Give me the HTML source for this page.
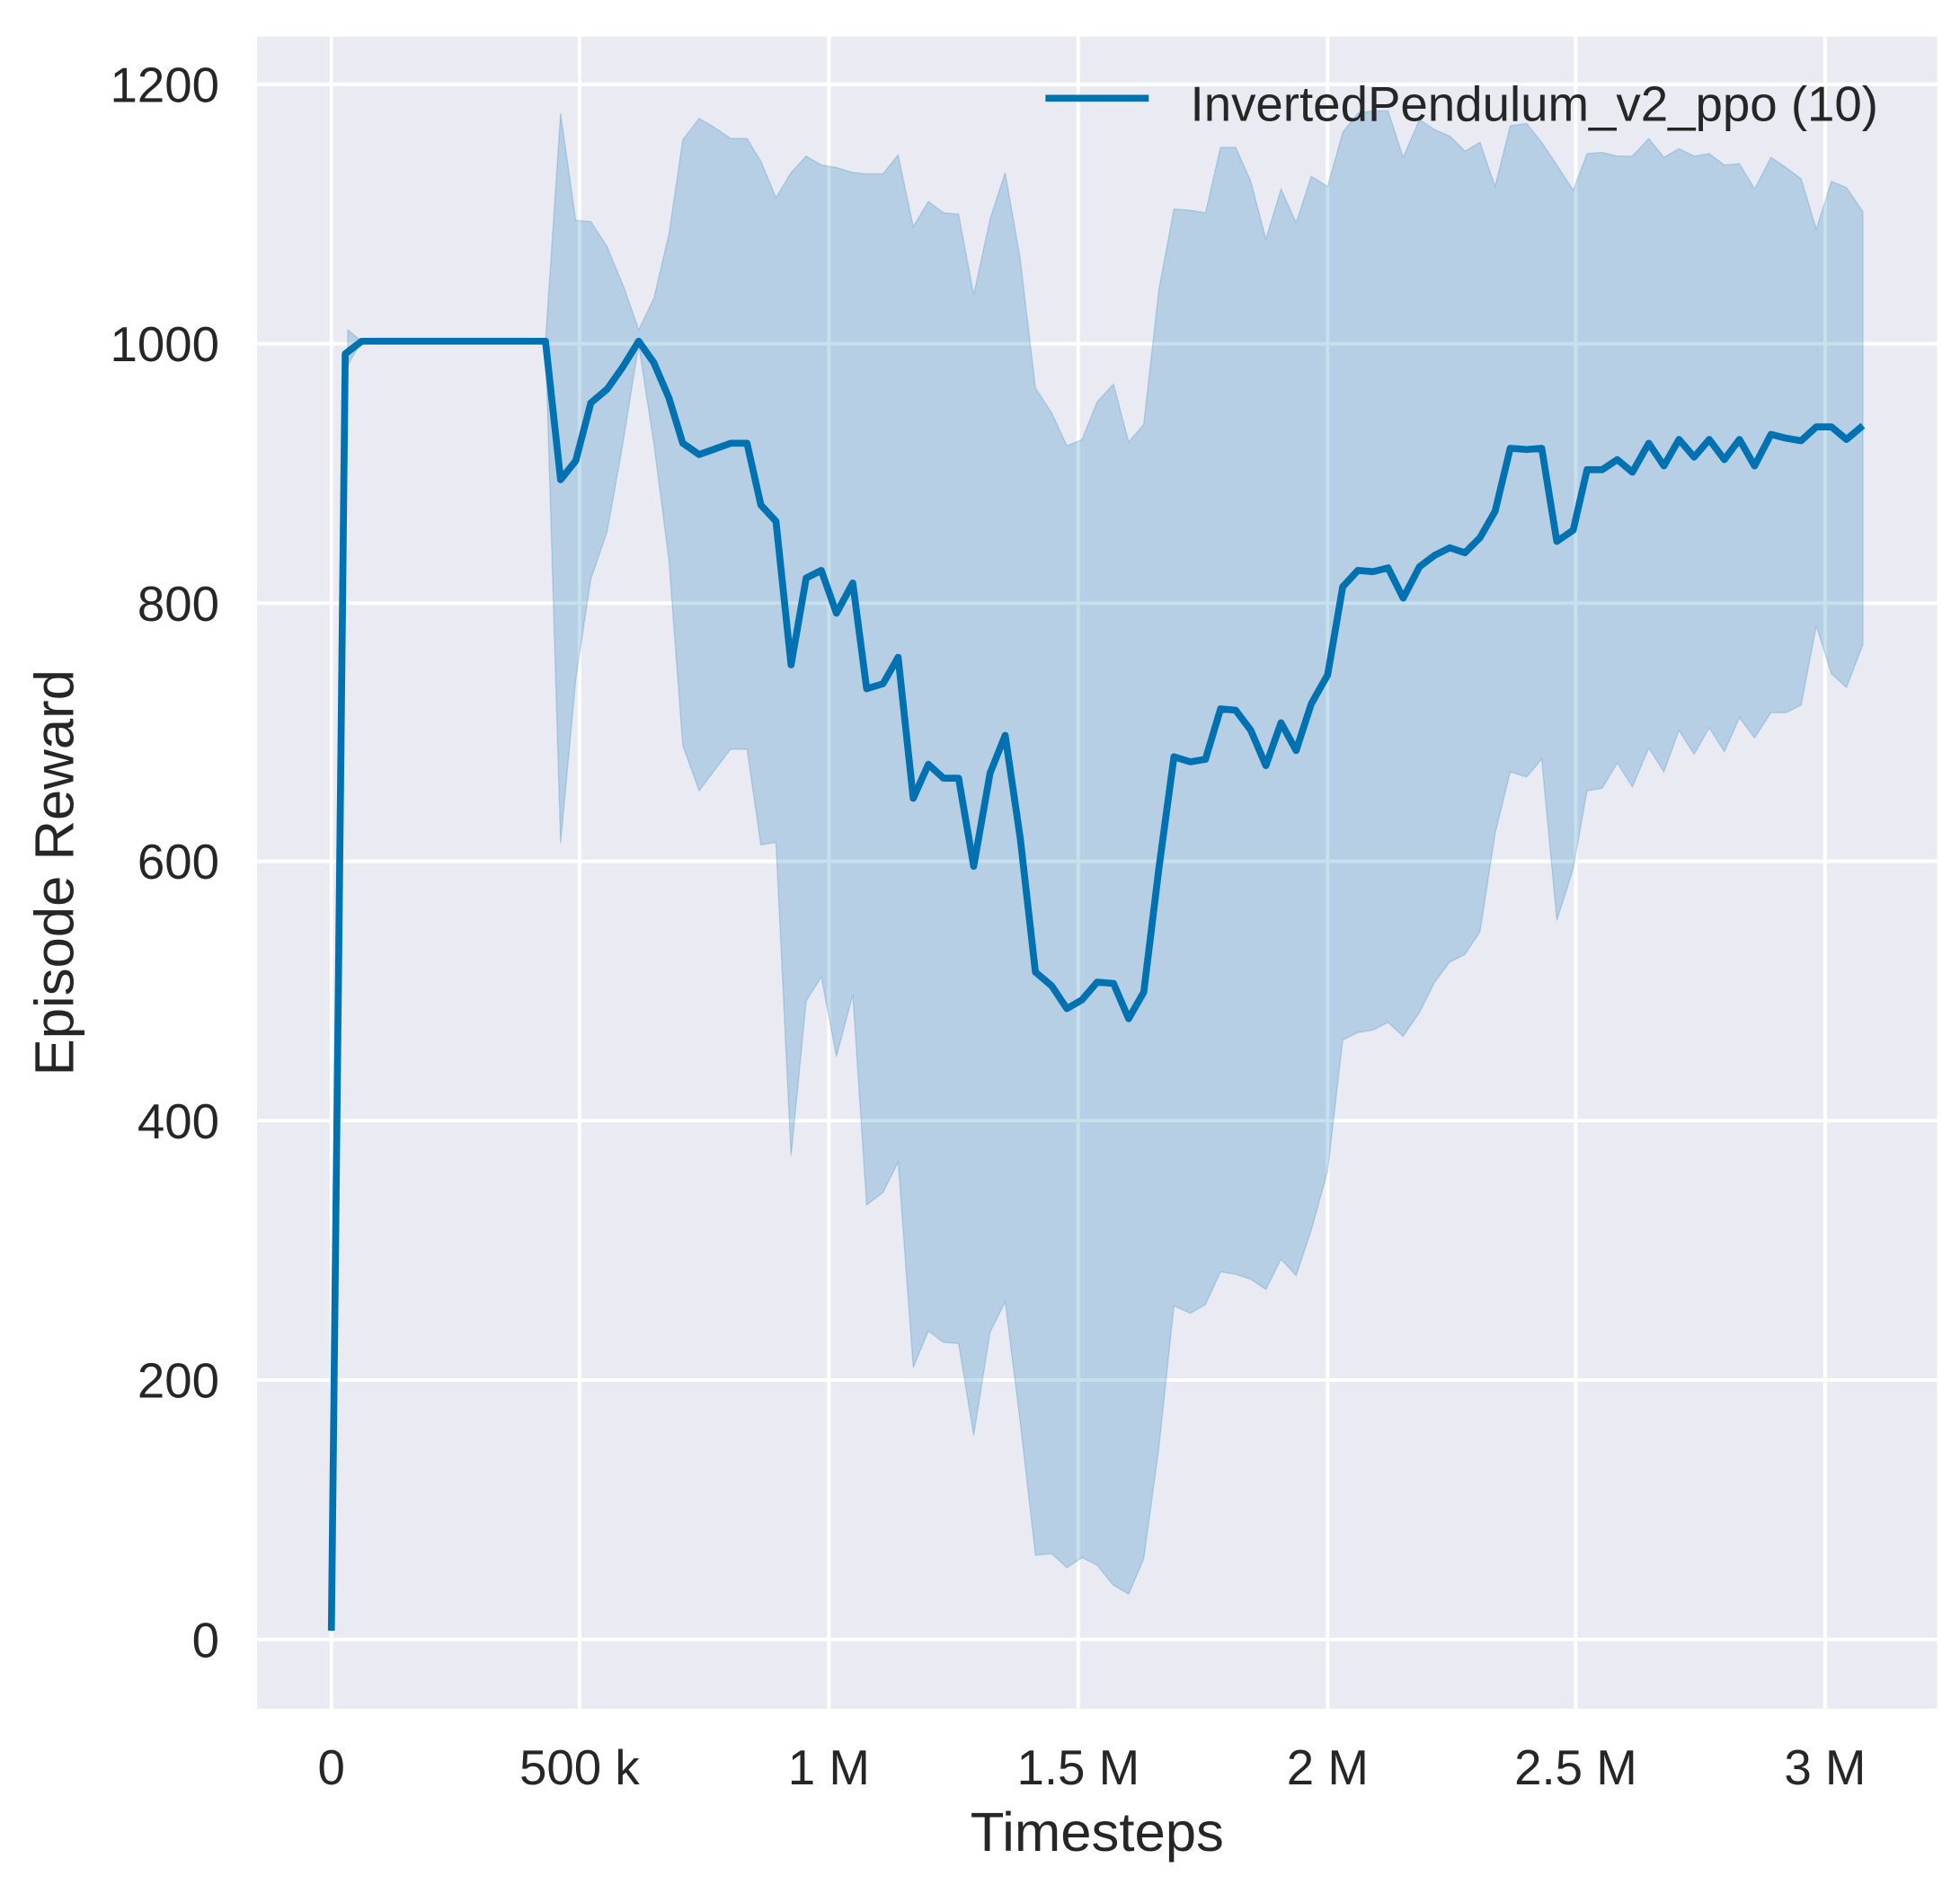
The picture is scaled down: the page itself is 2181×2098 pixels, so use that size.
<!DOCTYPE html>
<html><head><style>
html,body{margin:0;padding:0;background:#fff;}
svg{display:block;}
text{font-family:"Liberation Sans",sans-serif;fill:#262626;}
</style></head><body>
<svg width="2181" height="2098" viewBox="0 0 1556 1497" xmlns="http://www.w3.org/2000/svg">
<rect x="0" y="0" width="1556" height="1497" fill="#fff"/>
<rect x="204" y="29" width="1334" height="1328" fill="#eaeaf2"/>
<g stroke="#fff" stroke-width="2.8">
<line x1="204" x2="1538" y1="1302" y2="1302"/>
<line x1="204" x2="1538" y1="1096" y2="1096"/>
<line x1="204" x2="1538" y1="890" y2="890"/>
<line x1="204" x2="1538" y1="684" y2="684"/>
<line x1="204" x2="1538" y1="479" y2="479"/>
<line x1="204" x2="1538" y1="273" y2="273"/>
<line x1="204" x2="1538" y1="67" y2="67"/>
<line y1="29" y2="1357" x1="263" x2="263"/>
<line y1="29" y2="1357" x1="460" x2="460"/>
<line y1="29" y2="1357" x1="658" x2="658"/>
<line y1="29" y2="1357" x1="856" x2="856"/>
<line y1="29" y2="1357" x1="1054" x2="1054"/>
<line y1="29" y2="1357" x1="1251" x2="1251"/>
<line y1="29" y2="1357" x1="1449" x2="1449"/>
</g>
<polygon fill="#0072b2" fill-opacity="0.22" stroke="#0072b2" stroke-opacity="0.2" stroke-width="1" points="276,262 287,271 433,271 445,90 457,175 469,176 482,196 496,230 507,262 519,237 531,186 542,111 555,94 567,101 580,110 593,110 604,128 616,157 628,137 640,124 652,131 664,133 677,137 688,138 701,138 713,123 725,180 737,160 749,169 761,170 773,234 786,174 798,137 810,206 822,308 835,328 847,354 859,349 871,319 884,305 896,351 908,337 920,230 932,166 945,167 957,169 969,117 981,117 993,144 1005,190 1017,150 1029,177 1041,140 1054,148 1066,105 1078,90 1090,88 1102,88 1114,125 1127,95 1139,103 1151,108 1163,120 1175,113 1187,148 1199,100 1212,98 1224,113 1236,131 1249,151 1260,122 1272,121 1284,124 1296,124 1309,110 1321,125 1333,118 1345,124 1357,122 1369,131 1381,130 1393,150 1406,125 1418,133 1430,142 1442,182 1454,144 1466,149 1479,168 1479,512 1466,546 1454,535 1442,497 1430,560 1418,566 1406,566 1393,586 1381,570 1369,597 1357,578 1345,599 1333,580 1321,613 1309,594 1296,625 1284,606 1272,626 1260,628 1249,690 1236,731 1224,603 1212,617 1199,613 1187,662 1175,740 1163,758 1151,764 1139,780 1127,804 1114,823 1102,812 1090,818 1078,820 1066,826 1054,930 1041,977 1029,1013 1017,1000 1005,1024 993,1016 981,1012 969,1010 957,1036 945,1043 932,1037 920,1150 908,1238 896,1266 884,1259 871,1243 859,1237 847,1245 835,1234 822,1235 810,1130 798,1034 786,1058 773,1140 761,1067 749,1066 737,1057 725,1086 713,923 701,947 688,957 677,790 664,839 652,776 640,795 628,918 616,669 604,671 593,595 580,595 567,612 555,628 542,592 531,445 519,352 507,274 494,355 482,422 469,460 457,540 445,670 433,271 287,271 276,290"/>
<polyline fill="none" stroke="#0072b2" stroke-width="5.5" stroke-linejoin="round" points="263,1295 274,281 287,271 433,271 445,381 457,366 469,320 482,309 494,292 507,271 519,288 531,316 542,352 555,361 580,352 593,352 604,401 616,414 628,528 640,459 652,453 664,487 677,463 688,547 701,543 713,522 725,634 737,607 749,618 761,618 773,688 786,614 798,584 810,666 822,772 835,783 847,801 859,794 871,780 884,781 896,809 908,788 920,690 932,601 945,605 957,603 969,563 981,564 993,580 1005,608 1017,574 1029,596 1041,559 1054,536 1066,466 1078,453 1090,454 1102,451 1114,475 1127,450 1139,441 1151,435 1163,439 1175,427 1187,406 1199,356 1212,357 1224,356 1236,430 1249,421 1260,373 1272,373 1284,365 1296,375 1309,352 1321,370 1333,349 1345,363 1357,349 1369,365 1381,349 1393,370 1406,345 1418,348 1430,350 1442,339 1454,339 1466,349 1479,338"/>
<g font-size="39" text-anchor="end">
<text x="174" y="1316">0</text>
<text x="174" y="1110">200</text>
<text x="174" y="904">400</text>
<text x="174" y="698">600</text>
<text x="174" y="493">800</text>
<text x="174" y="287">1000</text>
<text x="174" y="81">1200</text>
</g>
<g font-size="39" text-anchor="middle">
<text x="263" y="1417">0</text>
<text x="460" y="1417">500 k</text>
<text x="658" y="1417">1 M</text>
<text x="856" y="1417">1.5 M</text>
<text x="1054" y="1417">2 M</text>
<text x="1251" y="1417">2.5 M</text>
<text x="1449" y="1417">3 M</text>
</g>
<text x="871" y="1470" font-size="44" text-anchor="middle">Timesteps</text>
<text transform="translate(58,693) rotate(-90)" font-size="44" text-anchor="middle">Episode Reward</text>
<line x1="830" x2="912" y1="78" y2="78" stroke="#0072b2" stroke-width="5.5"/>
<text x="945" y="96" font-size="39">InvertedPendulum_v2_ppo (10)</text>
</svg>
</body></html>
